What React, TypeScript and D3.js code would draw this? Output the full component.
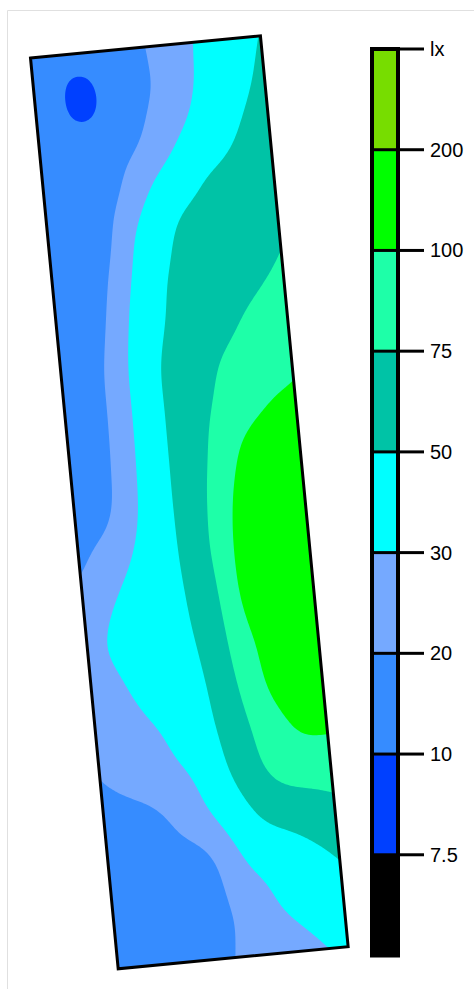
import React, { useMemo } from 'react';
import * as d3 from 'd3';

// Contour levels (lx) and legend
const thresholds = [7.5, 10, 20, 30, 50, 75, 100, 200];
const tickLabels = ['lx', '200', '100', '75', '50', '30', '20', '10', '7.5'];
// colour below 7.5, then one per band starting at each threshold
const bandColors = ['#000000', '#0040ff', '#368cff', '#75a9ff', '#00ffff', '#00c3a6', '#1effa8', '#00ff00', '#77dd00'];

// Illuminance samples (lx) across the room: rows from top to bottom, columns from left wall to right wall
const lux: number[][] = [
  [15, 14.5, 19.8, 16.5, 18, 19.7, 24.7, 29.9, 36.8, 43.6, 50.8],
  [14.5, 14.5, 7.8, 14.5, 17, 19.5, 25.1, 31.4, 39, 46.8, 55.5],
  [15, 15, 17.5, 16.5, 17.7, 23.6, 29.7, 37.4, 45, 53.5, 62.5],
  [14.5, 15, 16, 17, 25.2, 33.6, 41.8, 50.3, 55.5, 61, 66.3],
  [14.5, 14, 12, 22.5, 33.4, 44.6, 55, 58.8, 62.5, 66.8, 71.3],
  [15, 15, 15.5, 26.4, 38.6, 50.5, 55.8, 61, 66.3, 71.5, 76.8],
  [15, 15.5, 18.1, 29.3, 42.8, 53.3, 60.3, 67.3, 74.3, 79.8, 85],
  [15, 16, 20.3, 32.4, 46.8, 57.5, 67, 76, 82, 88, 93.8],
  [15, 15.5, 20.8, 32.6, 46.6, 59, 71, 82.3, 93.3, 105, 120],
  [15, 14.5, 21.8, 33, 46.4, 60.3, 74.3, 95, 135, 150, 160],
  [15, 15, 23.5, 34, 46.4, 61.3, 78.8, 115, 145, 160, 170],
  [17.6, 22.9, 28.3, 36.6, 46.2, 60.8, 81, 130, 150, 165, 170],
  [24.5, 28.6, 34, 40, 46, 57, 77.3, 130, 150, 165, 170],
  [27.5, 31, 35.8, 40.8, 45.8, 52.8, 73, 99.3, 130, 150, 160],
  [25, 28.1, 32.2, 38, 43.6, 49.4, 68.3, 90.3, 135, 145, 150],
  [23, 25.4, 27.8, 30.6, 38.8, 47, 62.3, 80.5, 96, 120, 121],
  [19.4, 22, 24.7, 27.3, 29.9, 41.8, 55.3, 72.3, 83.8, 86.3, 87.5],
  [13.5, 14, 15.4, 20.4, 25.5, 31.2, 42.4, 53, 58, 62.5, 67.5],
  [13.5, 13.5, 14, 14.2, 14.5, 22.6, 30.4, 35.6, 40.8, 45.8, 51.3],
  [13.5, 13.5, 14, 15, 16.5, 19.2, 24.2, 29.2, 33.6, 37.8, 42],
  [13.5, 13.5, 14, 15, 17, 19.8, 22.2, 24.7, 27.1, 29.6, 34],
];

// Layout
const ORIGIN: [number, number] = [30.5, 58];
const PW = 231;
const PH = 915;
const ANGLE = (-5.5 * Math.PI) / 180;
const NX = 116;
const NY = 458;
const PAD = 16;
const BLUR_R = 4;

function cr(p0: number, p1: number, p2: number, p3: number, t: number) {
  return 0.5 * (2 * p1 + (-p0 + p2) * t + (2 * p0 - 5 * p1 + 4 * p2 - p3) * t * t + (-p0 + 3 * p1 - 3 * p2 + p3) * t * t * t);
}

function boxBlur(src: Float64Array, w: number, h: number, r: number, horizontal: boolean) {
  const out = new Float64Array(w * h);
  const n = horizontal ? w : h;
  const m = horizontal ? h : w;
  for (let a = 0; a < m; a++) {
    for (let b = 0; b < n; b++) {
      let s = 0;
      for (let k = -r; k <= r; k++) {
        const bb = Math.min(Math.max(b + k, 0), n - 1);
        s += horizontal ? src[a * w + bb] : src[bb * w + a];
      }
      if (horizontal) out[a * w + b] = s / (2 * r + 1);
      else out[b * w + a] = s / (2 * r + 1);
    }
  }
  return out;
}

export default function App() {
  const { paths, outline } = useMemo(() => {
    const nCols = lux[0].length;
    const nRows = lux.length;
    const toIndex = d3.scaleLinear().domain(thresholds).range(d3.range(thresholds.length));
    const idx = lux.map((r) => r.map((v) => toIndex(v)));

    const getRow = (i: number, j: number): number => {
      if (i < 0) return 2 * getRow(0, j) - getRow(1, j);
      if (i > nCols - 1) return 2 * getRow(nCols - 1, j) - getRow(nCols - 2, j);
      return idx[j][i];
    };
    const get = (i: number, j: number): number => {
      if (j < 0) return 2 * get(i, 0) - get(i, 1);
      if (j > nRows - 1) return 2 * get(i, nRows - 1) - get(i, nRows - 2);
      return getRow(i, j);
    };
    const sample = (gu: number, gv: number) => {
      const i = Math.min(Math.max(Math.floor(gu), 0), nCols - 2);
      const j = Math.min(Math.max(Math.floor(gv), 0), nRows - 2);
      const tu = gu - i;
      const tv = gv - j;
      const rows: number[] = [];
      for (let k = -1; k <= 2; k++) {
        rows.push(cr(get(i - 1, j + k), get(i, j + k), get(i + 1, j + k), get(i + 2, j + k), tu));
      }
      return cr(rows[0], rows[1], rows[2], rows[3], tv);
    };
    const maxU = nCols - 1;
    const maxV = nRows - 1;
    const ext = (gu: number, gv: number): number => {
      if (gu < 0) return 2 * ext(0, gv) - ext(-gu, gv);
      if (gu > maxU) return 2 * ext(maxU, gv) - ext(2 * maxU - gu, gv);
      if (gv < 0) return 2 * ext(gu, 0) - ext(gu, -gv);
      if (gv > maxV) return 2 * ext(gu, maxV) - ext(gu, 2 * maxV - gv);
      return sample(gu, gv);
    };

    const WX = NX + 2 * PAD;
    const WY = NY + 2 * PAD;
    let big = new Float64Array(WX * WY);
    for (let y = 0; y < WY; y++) {
      for (let x = 0; x < WX; x++) {
        const gu = ((x - PAD + 0.5) / NX) * maxU;
        const gv = ((y - PAD + 0.5) / NY) * maxV;
        big[y * WX + x] = ext(gu, gv);
      }
    }
    for (let pass = 0; pass < 3; pass++) {
      big = boxBlur(big, WX, WY, BLUR_R, true);
      big = boxBlur(big, WX, WY, BLUR_R, false);
    }
    const values = new Array(NX * NY);
    for (let y = 0; y < NY; y++) {
      for (let x = 0; x < NX; x++) {
        values[y * NX + x] = big[(y + PAD) * WX + (x + PAD)];
      }
    }

    const cos = Math.cos(ANGLE);
    const sin = Math.sin(ANGLE);
    const uScale = d3.scaleLinear().domain([0, NX]).range([0, PW]);
    const vScale = d3.scaleLinear().domain([0, NY]).range([0, PH]);
    const toScreen = (u: number, v: number): [number, number] => [
      ORIGIN[0] + u * cos - v * sin,
      ORIGIN[1] + u * sin + v * cos,
    ];
    const proj = d3.geoTransform({
      point(x: number, y: number) {
        const p = toScreen(uScale(x), vScale(y));
        (this as any).stream.point(p[0], p[1]);
      },
    });
    const path = d3.geoPath(proj as any);
    const contours = d3.contours().size([NX, NY]).thresholds(d3.range(thresholds.length))(values);
    const paths = contours.map((c, k) => ({ d: path(c as any) || '', fill: bandColors[k + 1] }));
    const corners = [toScreen(0, 0), toScreen(PW, 0), toScreen(PW, PH), toScreen(0, PH)];
    const outline = 'M' + corners.map((p) => p.join(',')).join('L') + 'Z';
    return { paths, outline };
  }, []);

  const yL = d3.scaleLinear().domain([0, tickLabels.length]).range([49, 955.5]);
  const barX0 = 372;
  const barX1 = 398;

  return (
    <svg
      width={474}
      height={989}
      style={{ position: 'absolute', left: 0, top: 0 }}
      fontFamily="'Liberation Sans', Arial, sans-serif"
    >
      <rect x={0} y={0} width={474} height={989} fill="#ffffff" />
      <line x1={7.5} y1={10.5} x2={474} y2={10.5} stroke="#e0e0e0" strokeWidth={1} />
      <line x1={7.5} y1={10.5} x2={7.5} y2={989} stroke="#e0e0e0" strokeWidth={1} />

      <path d={outline} fill="#000000" />
      {paths.map((p, i) => (
        <path key={i} d={p.d} fill={p.fill} stroke="none" />
      ))}
      <path d={outline} fill="none" stroke="#000000" strokeWidth={3} strokeLinejoin="miter" />

      {/* colour bar */}
      {tickLabels.map((lab, i) => (
        <rect
          key={'b' + lab}
          x={barX0}
          y={yL(i)}
          width={barX1 - barX0}
          height={yL(i + 1) - yL(i)}
          fill={bandColors[tickLabels.length - 1 - i]}
        />
      ))}
      {tickLabels.map((lab, i) => (
        <line key={'s' + lab} x1={barX0} x2={barX1} y1={yL(i)} y2={yL(i)} stroke="#000" strokeWidth={3} />
      ))}
      <rect
        x={barX0}
        y={yL(0)}
        width={barX1 - barX0}
        height={yL(tickLabels.length) - yL(0)}
        fill="none"
        stroke="#000"
        strokeWidth={4}
      />
      {tickLabels.map((lab, i) => (
        <g key={'t' + lab}>
          <line x1={barX1} x2={424} y1={yL(i)} y2={yL(i)} stroke="#000" strokeWidth={3} />
          <text x={430} y={yL(i) + 7} fontSize={20} fill="#000">
            {lab}
          </text>
        </g>
      ))}
    </svg>
  );
}
